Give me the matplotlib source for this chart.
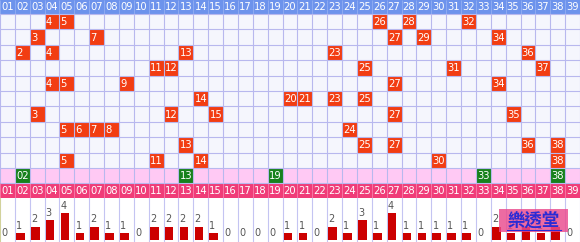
import matplotlib.pyplot as plt
from matplotlib.patches import Rectangle

plt.rcParams['font.family'] = ['DejaVu Sans', 'Noto Sans CJK TC']

# ball numbers 01..39
balls = ['01', '02', '03', '04', '05', '06', '07', '08', '09', '10',
         '11', '12', '13', '14', '15', '16', '17', '18', '19', '20',
         '21', '22', '23', '24', '25', '26', '27', '28', '29', '30',
         '31', '32', '33', '34', '35', '36', '37', '38', '39']

# last ten draws, oldest first
draws = [
    [4, 5, 26, 28, 32],
    [3, 7, 27, 29, 34],
    [2, 4, 13, 23, 36],
    [11, 12, 25, 31, 37],
    [4, 5, 9, 27, 34],
    [14, 20, 21, 23, 25],
    [3, 12, 15, 27, 35],
    [5, 6, 7, 8, 24],
    [13, 25, 27, 36, 38],
    [5, 11, 14, 30, 38],
]

# numbers marked in the highlight row
marked = [2, 13, 19, 33, 38]

# how many times each number came up in the ten draws
counts = [0, 1, 2, 3, 4, 1, 2, 1, 1, 0,
          2, 2, 2, 2, 1, 0, 0, 0, 0, 1,
          1, 0, 2, 1, 3, 1, 4, 1, 1, 1,
          1, 1, 0, 2, 1, 2, 1, 2, 0]

W, H = 580, 242
TOP_H = 198
HEAD_H = 14
ROW_H = 15.4
n_cols = len(balls)

fig = plt.figure(figsize=(W / 100, H / 100), dpi=100)
ax = fig.add_axes([0, (H - TOP_H) / H, 1, TOP_H / H])
bx = fig.add_axes([0, 0, 1, (H - TOP_H) / H])

for a in (ax, bx):
    a.set_axis_off()
    a.set_xlim(0, n_cols)

ax.set_ylim(TOP_H, 0)

grid_top = HEAD_H
grid_bot = HEAD_H + ROW_H * len(draws)
mark_bot = grid_bot + 15
foot_bot = TOP_H

# backgrounds
ax.add_patch(Rectangle((0, 0), n_cols, HEAD_H, color='#6d93ec', lw=0))
ax.add_patch(Rectangle((0, grid_top), n_cols, grid_bot - grid_top, color='#f5f6fd', lw=0))
ax.add_patch(Rectangle((0, grid_bot), n_cols, mark_bot - grid_bot, color='#ffc9f4', lw=0))
ax.add_patch(Rectangle((0, mark_bot), n_cols, foot_bot - mark_bot, color='#f03c78', lw=0))

# drawn numbers
for r, row in enumerate(draws):
    y0 = grid_top + r * ROW_H
    for n in row:
        ax.add_patch(Rectangle((n - 1, y0), 1, ROW_H, color='#f23d12', lw=0, zorder=2))
        ax.text(n - 1 + 0.08, y0 + ROW_H / 2 + 0.5, str(n), color='white', fontsize=7.2,
                ha='left', va='center', zorder=4)

for n in marked:
    ax.add_patch(Rectangle((n - 1, grid_bot), 1, mark_bot - grid_bot, color='#17811c', lw=0, zorder=2))
    ax.text(n - 0.5, (grid_bot + mark_bot) / 2 + 0.5, balls[n - 1], color='white', fontsize=7.2,
            ha='center', va='center', zorder=4)

# grid lines
xs = list(range(n_cols + 1))
ax.vlines(xs, grid_top, mark_bot, color='#b8b8ee', lw=0.8, zorder=3)
ax.vlines(xs, 0, HEAD_H, color='#92aef2', lw=0.6, zorder=3)
ax.vlines(xs, mark_bot, foot_bot, color='#f680aa', lw=0.6, zorder=3)
row_edges = [grid_top + i * ROW_H for i in range(len(draws) + 1)] + [mark_bot]
ax.hlines(row_edges, 0, n_cols, color='#b8b8ee', lw=0.8, zorder=3)

# column headers top and bottom
for i, lab in enumerate(balls):
    ax.text(i + 0.5, HEAD_H / 2 + 0.5, lab, color='white', fontsize=7.2,
            ha='center', va='center', zorder=4)
    ax.text(i + 0.5, (mark_bot + foot_bot) / 2 + 0.5, lab, color='white', fontsize=7.2,
            ha='center', va='center', zorder=4)

# frequency bars
bx.set_ylim(-0.3, (H - TOP_H) / 6.7 - 0.3)
bx.vlines(xs, -0.3, 10, color='#c4c4f2', lw=0.8, zorder=1)
bx.vlines([0], -0.3, 10, color='#d6d68a', lw=1.2, zorder=1)
bar_x = [i + 0.08 for i in range(n_cols)]
bx.bar(bar_x, counts, width=0.58, align='edge', color='#cc0000', zorder=2)
for x, c in zip(bar_x, counts):
    bx.text(x, c + 0.35, str(c), color='#555555', fontsize=7, ha='left', va='bottom', zorder=3)

# site badge over the lower right
fig.add_artist(Rectangle((499 / W, 10 / H), 69 / W, 23 / H, transform=fig.transFigure,
                         color='#ea4a8e', alpha=0.82, lw=0, zorder=5))
fig.text(534 / W, 21.5 / H, '樂透堂', color='#2b2bd4', fontsize=12.5, fontweight='bold',
         family=['Noto Sans CJK TC'], ha='center', va='center', zorder=6)
fig.add_artist(plt.Line2D([507 / W, 561 / W], [12 / H, 12 / H], transform=fig.transFigure,
                          color='#2b2bd4', lw=0.8, zorder=6))

fig.savefig('out.png', dpi=100)
